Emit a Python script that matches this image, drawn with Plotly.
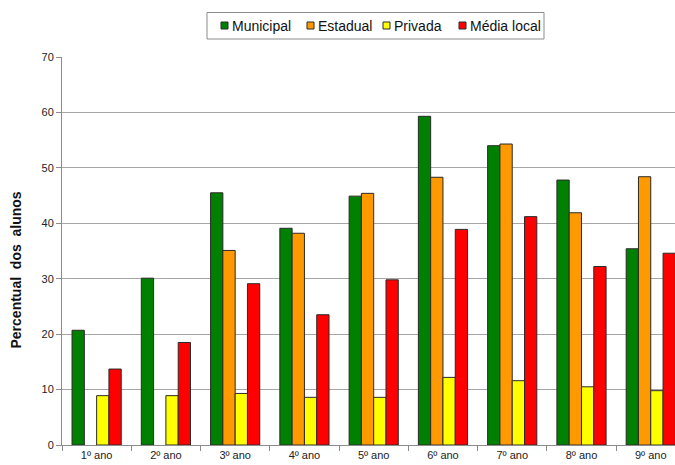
import plotly.graph_objects as go

# School years on the category axis
anos = ["1º ano", "2º ano", "3º ano", "4º ano", "5º ano",
        "6º ano", "7º ano", "8º ano", "9º ano"]

# Percentage of students per school network
municipal = [20.7, 30.1, 45.5, 39.1, 44.9, 59.3, 54.0, 47.8, 35.4]
estadual = [None, None, 35.1, 38.2, 45.4, 48.3, 54.3, 41.9, 48.4]
privada = [8.9, 8.9, 9.3, 8.6, 8.6, 12.2, 11.6, 10.5, 9.8]
media_local = [13.7, 18.5, 29.1, 23.5, 29.8, 38.9, 41.2, 32.2, 34.6]

nomes = ["Municipal", "Estadual", "Privada", "Média local"]
valores = [municipal, estadual, privada, media_local]
cores = ["#008000", "#FF9900", "#FFFF00", "#FF0000"]

W, H = 675, 465
ML, MR, MT, MB = 62, 0, 57, 20
PW, PH = W - ML - MR, H - MT - MB


def px_x(px):
    """Pixel column -> paper x."""
    return (px - ML) / PW


def px_y(py):
    """Pixel row -> paper y."""
    return (H - MB - py) / PH


fig = go.Figure()
for nome, vals, cor in zip(nomes, valores, cores):
    fig.add_trace(go.Bar(
        x=anos, y=vals, name=nome,
        marker=dict(color=cor, line=dict(color="#2a2a2a", width=1)),
    ))

font_family = "Liberation Sans, Arial, sans-serif"

# Boxed legend row above the plot: small square swatch + label per series
shapes = [dict(type="rect", xref="paper", yref="paper",
               x0=px_x(207), x1=px_x(544), y0=px_y(39), y1=px_y(12.5),
               line=dict(color="#8c8c8c", width=1), fillcolor="white")]
annotations = []
swatch_x = [221, 307, 383, 459]
for nome, cor, sx in zip(nomes, cores, swatch_x):
    shapes.append(dict(type="rect", xref="paper", yref="paper",
                       x0=px_x(sx), x1=px_x(sx + 7), y0=px_y(29), y1=px_y(22),
                       line=dict(color="#2a2a2a", width=1), fillcolor=cor))
    annotations.append(dict(xref="paper", yref="paper", x=px_x(sx + 9),
                            y=px_y(25.5), xanchor="left", yanchor="middle",
                            text=nome, showarrow=False,
                            font=dict(family=font_family, size=14,
                                      color="#111111")))

# Vertical y-axis title
annotations.append(dict(xref="paper", yref="paper", x=px_x(15.5),
                        y=px_y(270), xanchor="center", yanchor="middle",
                        text="<b>Percentual  dos  alunos</b>", textangle=-90,
                        showarrow=False,
                        font=dict(family=font_family, size=14,
                                  color="#111111")))

fig.update_layout(
    width=W, height=H,
    margin=dict(l=ML, r=MR, t=MT, b=MB),
    paper_bgcolor="white", plot_bgcolor="white",
    barmode="group", bargap=0.29, bargroupgap=0,
    font=dict(family=font_family, size=11, color="#222222"),
    showlegend=False,
    shapes=shapes, annotations=annotations,
    xaxis=dict(
        type="category", range=[-0.5, 8.35],
        showline=True, linecolor="#8c8c8c", linewidth=1,
        ticks="outside", tickson="boundaries", ticklen=5, tickcolor="#8c8c8c",
        showgrid=False, tickfont=dict(size=11, color="#222222"),
    ),
    yaxis=dict(
        range=[0, 70], dtick=10, tick0=0,
        showline=True, linecolor="#8c8c8c", linewidth=1,
        ticks="outside", ticklen=5, tickcolor="#8c8c8c",
        showgrid=True, gridcolor="#a6a6a6", gridwidth=1,
        zeroline=False, tickfont=dict(size=11, color="#222222"),
    ),
)

fig.write_html("out.html")
